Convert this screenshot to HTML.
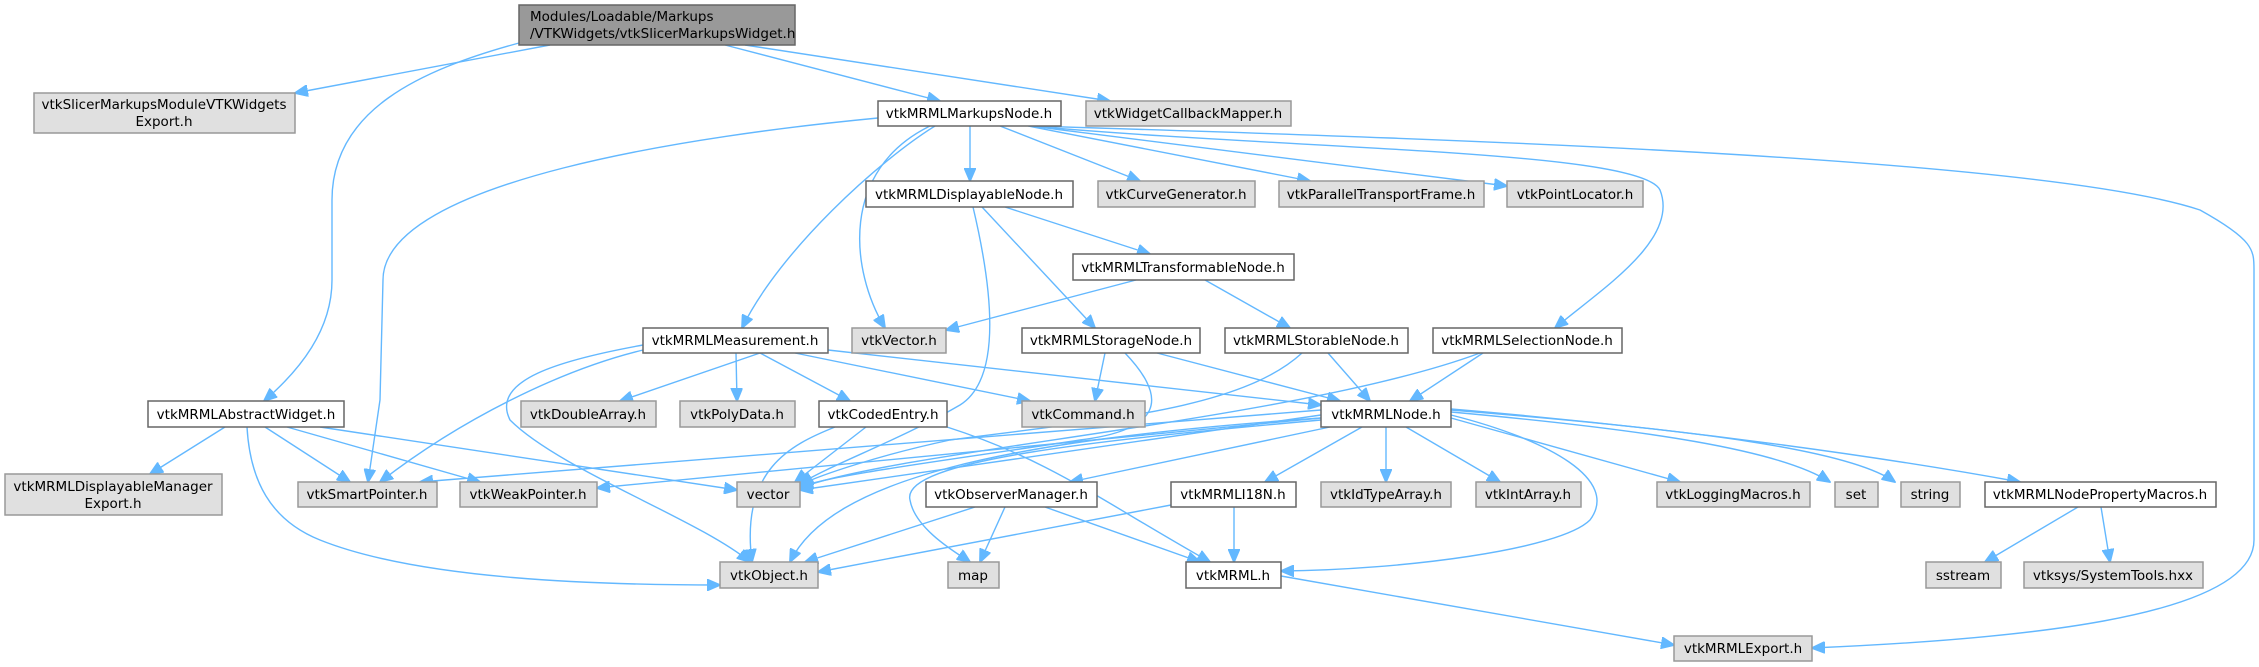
<!DOCTYPE html>
<html><head><meta charset="utf-8"><style>
html,body{margin:0;padding:0;background:#fff;}
svg{display:block;}
text{font-family:"DejaVu Sans","Liberation Sans",sans-serif;font-size:13.5px;fill:#000;}
.w{fill:#fff;stroke:#666;stroke-width:1.5;}
.g{fill:#e0e0e0;stroke:#999;stroke-width:1.5;}
.r{fill:#999;stroke:#666;stroke-width:1.5;}
path{fill:none;stroke:#63b8ff;stroke-width:1.4;}
</style></head><body>
<svg width="2259" height="667" viewBox="0 0 2259 667" xmlns="http://www.w3.org/2000/svg">
<defs><marker id="a" markerWidth="14" markerHeight="12" refX="13" refY="6" orient="auto" markerUnits="userSpaceOnUse"><polygon points="0,0 14,6 0,12" fill="#63b8ff" stroke="#63b8ff"/></marker></defs>
<g marker-end="url(#a)">
<path d="M550,45 L295,93"/>
<path d="M519,43 C420,70 332,110 332,200 L332,280 C332,330 300,370 264,401"/>
<path d="M725,45 L940,101"/>
<path d="M745,45 L1110,101"/>
<path d="M878,118 C700,135 383,180 383,280 L380,400 L368,482"/>
<path d="M935,126 C880,160 780,250 742,328"/>
<path d="M930,126 C840,170 850,270 885,328"/>
<path d="M970,126 L970,181"/>
<path d="M1000,126 L1140,181"/>
<path d="M1028,126 L1310,181"/>
<path d="M1030,126 L1507,186"/>
<path d="M1030,126 C1300,150 1640,150 1660,190 C1680,240 1600,290 1555,328"/>
<path d="M1030,126 C1500,140 2050,160 2200,210 C2254,240 2254,250 2254,270 L2254,540 C2254,620 2000,640 1812,648"/>
<path d="M1005,207 L1150,254"/>
<path d="M982,207 L1095,328"/>
<path d="M973,207 C995,300 1000,380 960,405 C900,440 830,465 800,484"/>
<path d="M1136,280 L946,330"/>
<path d="M1205,280 L1290,328"/>
<path d="M760,353 L620,401"/>
<path d="M736,353 L737,401"/>
<path d="M760,353 L850,401"/>
<path d="M795,353 L1030,401"/>
<path d="M828,350 L1321,405"/>
<path d="M643,350 C560,370 460,420 380,482"/>
<path d="M643,345 C560,360 490,380 510,420 C560,470 700,520 750,562"/>
<path d="M1105,353 L1095,401"/>
<path d="M1157,353 L1340,401"/>
<path d="M1125,353 C1170,400 1160,430 1080,440 C950,460 830,475 800,487"/>
<path d="M1328,353 L1370,401"/>
<path d="M1302,353 C1240,410 1100,420 950,440 C880,455 820,475 800,485"/>
<path d="M1483,353 L1410,401"/>
<path d="M1480,353 C1300,420 900,450 800,488"/>
<path d="M225,427 L150,474"/>
<path d="M265,427 L350,482"/>
<path d="M287,427 L480,482"/>
<path d="M320,427 L737,490"/>
<path d="M247,427 C250,480 270,520 320,540 C420,580 600,585 720,585"/>
<path d="M866,427 L795,482"/>
<path d="M835,427 C790,445 740,470 752,562"/>
<path d="M947,427 C1050,460 1100,500 1210,562"/>
<path d="M1321,415 L800,490"/>
<path d="M1321,410 L420,482"/>
<path d="M1321,418 L597,488"/>
<path d="M1321,418 C1000,440 830,480 790,562"/>
<path d="M1321,420 C1100,440 900,460 910,500 C915,530 960,555 970,562"/>
<path d="M1330,427 L1070,482"/>
<path d="M1362,427 L1265,482"/>
<path d="M1386,427 L1386,482"/>
<path d="M1406,427 L1500,482"/>
<path d="M1451,418 L1680,482"/>
<path d="M1451,412 C1650,430 1780,450 1830,482"/>
<path d="M1451,410 C1700,430 1850,450 1895,482"/>
<path d="M1451,409 C1700,430 1900,460 2020,482"/>
<path d="M1451,415 C1550,440 1620,480 1590,520 C1560,550 1400,570 1281,571"/>
<path d="M975,507 L805,562"/>
<path d="M1005,507 L980,562"/>
<path d="M1045,507 L1200,562"/>
<path d="M1171,505 L818,572"/>
<path d="M1234,507 L1234,562"/>
<path d="M1281,576 L1674,645"/>
<path d="M2078,507 L1985,562"/>
<path d="M2101,507 L2110,562"/>
</g>
<g>
<rect class="r" x="519" y="5" width="276" height="40"/>
<text x="530" y="21">Modules/Loadable/Markups</text><text x="530" y="38">/VTKWidgets/vtkSlicerMarkupsWidget.h</text>
<rect class="g" x="34" y="93" width="261" height="40"/>
<text x="164" y="109" text-anchor="middle">vtkSlicerMarkupsModuleVTKWidgets</text><text x="164" y="126" text-anchor="middle">Export.h</text>
<rect class="w" x="878" y="101" width="183" height="25"/><text x="969" y="118" text-anchor="middle">vtkMRMLMarkupsNode.h</text>
<rect class="g" x="1086" y="101" width="205" height="25"/><text x="1188" y="118" text-anchor="middle">vtkWidgetCallbackMapper.h</text>
<rect class="w" x="866" y="181" width="207" height="26"/><text x="969" y="199" text-anchor="middle">vtkMRMLDisplayableNode.h</text>
<rect class="g" x="1098" y="181" width="157" height="26"/><text x="1176" y="199" text-anchor="middle">vtkCurveGenerator.h</text>
<rect class="g" x="1279" y="181" width="205" height="26"/><text x="1381" y="199" text-anchor="middle">vtkParallelTransportFrame.h</text>
<rect class="g" x="1507" y="181" width="136" height="26"/><text x="1575" y="199" text-anchor="middle">vtkPointLocator.h</text>
<rect class="w" x="1073" y="254" width="221" height="26"/><text x="1183" y="272" text-anchor="middle">vtkMRMLTransformableNode.h</text>
<rect class="w" x="643" y="328" width="185" height="25"/><text x="735" y="345" text-anchor="middle">vtkMRMLMeasurement.h</text>
<rect class="g" x="852" y="328" width="94" height="25"/><text x="899" y="345" text-anchor="middle">vtkVector.h</text>
<rect class="w" x="1022" y="328" width="178" height="25"/><text x="1111" y="345" text-anchor="middle">vtkMRMLStorageNode.h</text>
<rect class="w" x="1225" y="328" width="183" height="25"/><text x="1316" y="345" text-anchor="middle">vtkMRMLStorableNode.h</text>
<rect class="w" x="1433" y="328" width="189" height="25"/><text x="1527" y="345" text-anchor="middle">vtkMRMLSelectionNode.h</text>
<rect class="w" x="148" y="401" width="196" height="26"/><text x="246" y="419" text-anchor="middle">vtkMRMLAbstractWidget.h</text>
<rect class="g" x="521" y="401" width="135" height="26"/><text x="588" y="419" text-anchor="middle">vtkDoubleArray.h</text>
<rect class="g" x="680" y="401" width="115" height="26"/><text x="737" y="419" text-anchor="middle">vtkPolyData.h</text>
<rect class="w" x="819" y="401" width="128" height="26"/><text x="883" y="419" text-anchor="middle">vtkCodedEntry.h</text>
<rect class="g" x="1022" y="401" width="123" height="26"/><text x="1083" y="419" text-anchor="middle">vtkCommand.h</text>
<rect class="w" x="1321" y="401" width="130" height="26"/><text x="1386" y="419" text-anchor="middle">vtkMRMLNode.h</text>
<rect class="g" x="5" y="474" width="217" height="41"/>
<text x="113" y="491" text-anchor="middle">vtkMRMLDisplayableManager</text><text x="113" y="508" text-anchor="middle">Export.h</text>
<rect class="g" x="298" y="482" width="139" height="25"/><text x="367" y="499" text-anchor="middle">vtkSmartPointer.h</text>
<rect class="g" x="460" y="482" width="137" height="25"/><text x="528" y="499" text-anchor="middle">vtkWeakPointer.h</text>
<rect class="g" x="737" y="482" width="63" height="25"/><text x="768" y="499" text-anchor="middle">vector</text>
<rect class="w" x="926" y="482" width="171" height="25"/><text x="1011" y="499" text-anchor="middle">vtkObserverManager.h</text>
<rect class="w" x="1171" y="482" width="125" height="25"/><text x="1233" y="499" text-anchor="middle">vtkMRMLI18N.h</text>
<rect class="g" x="1321" y="482" width="130" height="25"/><text x="1386" y="499" text-anchor="middle">vtkIdTypeArray.h</text>
<rect class="g" x="1476" y="482" width="105" height="25"/><text x="1528" y="499" text-anchor="middle">vtkIntArray.h</text>
<rect class="g" x="1657" y="482" width="153" height="25"/><text x="1733" y="499" text-anchor="middle">vtkLoggingMacros.h</text>
<rect class="g" x="1835" y="482" width="43" height="25"/><text x="1856" y="499" text-anchor="middle">set</text>
<rect class="g" x="1901" y="482" width="59" height="25"/><text x="1930" y="499" text-anchor="middle">string</text>
<rect class="w" x="1985" y="482" width="231" height="25"/><text x="2100" y="499" text-anchor="middle">vtkMRMLNodePropertyMacros.h</text>
<rect class="g" x="720" y="562" width="98" height="26"/><text x="769" y="580" text-anchor="middle">vtkObject.h</text>
<rect class="g" x="948" y="562" width="51" height="26"/><text x="973" y="580" text-anchor="middle">map</text>
<rect class="w" x="1186" y="562" width="95" height="26"/><text x="1233" y="580" text-anchor="middle">vtkMRML.h</text>
<rect class="g" x="1926" y="562" width="75" height="26"/><text x="1963" y="580" text-anchor="middle">sstream</text>
<rect class="g" x="2024" y="562" width="179" height="26"/><text x="2113" y="580" text-anchor="middle">vtksys/SystemTools.hxx</text>
<rect class="g" x="1674" y="636" width="138" height="25"/><text x="1743" y="653" text-anchor="middle">vtkMRMLExport.h</text>
</g>
</svg>
</body></html>
